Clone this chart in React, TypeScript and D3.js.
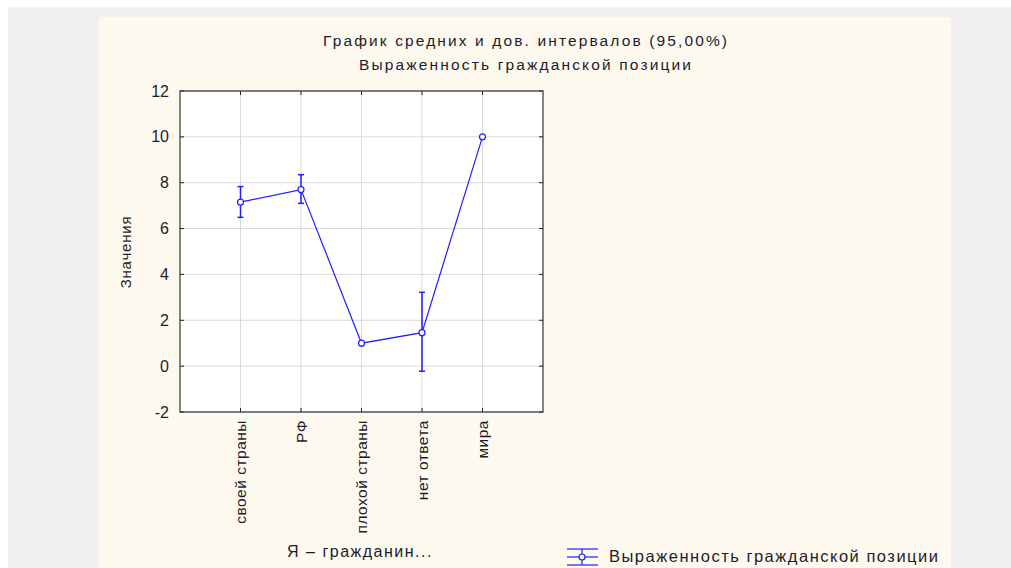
import React from "react";
import * as d3 from "d3";

const categories = ["своей страны", "РФ", "плохой страны", "нет ответа", "мира"];
const means = [7.15, 7.7, 1.0, 1.46, 10.0];
const lower = [6.49, 7.1, 1.0, -0.22, 10.0];
const upper = [7.83, 8.35, 1.0, 3.22, 10.0];
const yTicks = [-2, 0, 2, 4, 6, 8, 10, 12];

const title1 = "График средних и  дов. интервалов (95,00%)";
const title2 = "Выраженность гражданской позиции";
const xTitle = "Я – гражданин...";
const yTitle = "Значения";
const legendLabel = "Выраженность гражданской позиции";

const BLUE = "#1f1fff";
const TEXT = "#1c1c2c";
const FONT = "'Liberation Sans', Arial, sans-serif";

export default function App() {
  const left = 180, right = 543, top = 91, bottom = 412;
  const x = d3.scaleLinear().domain([0, categories.length + 1]).range([left, right]);
  const y = d3.scaleLinear().domain([-2, 12]).range([bottom, top]);
  const line = d3.line<number>().x((_, i) => x(i + 1)).y((d) => y(d));

  return (
    <svg width={1011} height={568} style={{ position: "absolute", left: 0, top: 0 }} fontFamily={FONT}>
      <rect x={0} y={0} width={1011} height={568} fill="#ffffff" />
      <rect x={8} y={7} width={1003} height={561} fill="#f0f0f0" />
      <rect x={99} y={17} width={852} height={551} fill="#fef9ee" />

      <text x={525} y={46} textAnchor="middle" fontSize={15.5} fill={TEXT} textLength={404} lengthAdjust="spacing">{title1}</text>
      <text x={525} y={70} textAnchor="middle" fontSize={15.5} fill={TEXT} textLength={332} lengthAdjust="spacing">{title2}</text>

      <rect x={left} y={top} width={right - left} height={bottom - top} fill="#ffffff" />
      {yTicks.map((t) => (
        <line key={"gy" + t} x1={left} x2={right} y1={y(t)} y2={y(t)} stroke="#d9d9d9" strokeWidth={1} />
      ))}
      {categories.map((c, i) => (
        <line key={"gx" + i} x1={x(i + 1)} x2={x(i + 1)} y1={top} y2={bottom} stroke="#d9d9d9" strokeWidth={1} />
      ))}
      {categories.map((c, i) => (
        <g key={"tk" + i}>
          <line x1={x(i + 1)} x2={x(i + 1)} y1={top} y2={top + 4} stroke="#222" />
          <line x1={x(i + 1)} x2={x(i + 1)} y1={bottom} y2={bottom - 4} stroke="#222" />
        </g>
      ))}
      {yTicks.map((t) => (
        <g key={"ty" + t}>
          <line x1={left} x2={left + 4} y1={y(t)} y2={y(t)} stroke="#222" />
          <line x1={right} x2={right - 4} y1={y(t)} y2={y(t)} stroke="#222" />
          <text x={169} y={y(t) + 5.5} textAnchor="end" fontSize={16} fill={TEXT}>{t}</text>
        </g>
      ))}
      <rect x={left} y={top} width={right - left} height={bottom - top} fill="none" stroke="#333" strokeWidth={1.2} />

      <path d={line(means) || ""} fill="none" stroke={BLUE} strokeWidth={1.2} />
      {categories.map((c, i) =>
        upper[i] - lower[i] > 0.05 ? (
          <g key={"eb" + i} stroke={BLUE} strokeWidth={1.5}>
            <line x1={x(i + 1)} x2={x(i + 1)} y1={y(upper[i])} y2={y(lower[i])} />
            <line x1={x(i + 1) - 3} x2={x(i + 1) + 3} y1={y(upper[i])} y2={y(upper[i])} />
            <line x1={x(i + 1) - 3} x2={x(i + 1) + 3} y1={y(lower[i])} y2={y(lower[i])} />
          </g>
        ) : null
      )}
      {means.map((m, i) => (
        <circle key={"pt" + i} cx={x(i + 1)} cy={y(m)} r={3} fill="#ffffff" stroke={BLUE} strokeWidth={1.2} />
      ))}

      {categories.map((c, i) => (
        <text key={"xl" + i} transform={`translate(${x(i + 1) + 5.5},${420}) rotate(-90)`} textAnchor="end" fontSize={15.5} letterSpacing={0.5} fill={TEXT}>{c}</text>
      ))}
      <text transform={`translate(131,252) rotate(-90)`} textAnchor="middle" fontSize={15} letterSpacing={0.8} fill={TEXT}>{yTitle}</text>
      <text x={360} y={557} textAnchor="middle" fontSize={16} fill={TEXT} letterSpacing={1.5}>{xTitle}</text>

      <g stroke={BLUE} strokeWidth={1.2}>
        <line x1={567} x2={598} y1={549} y2={549} />
        <line x1={567} x2={598} y1={565} y2={565} />
        <line x1={567} x2={598} y1={557} y2={557} />
        <line x1={582} x2={582} y1={549} y2={565} />
        <circle cx={582} cy={557} r={3} fill="#ffffff" />
      </g>
      <text x={609} y={562} fontSize={16.5} fill={TEXT} textLength={329} lengthAdjust="spacing">{legendLabel}</text>
    </svg>
  );
}
